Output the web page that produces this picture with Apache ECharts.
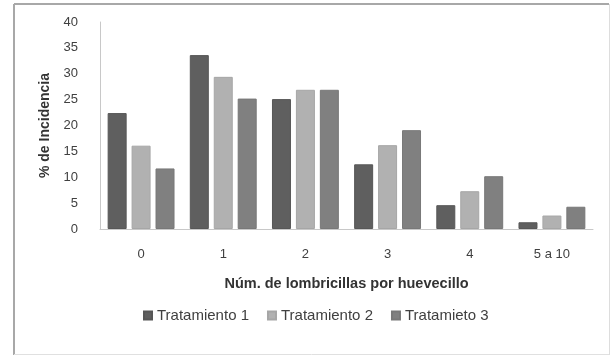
<!DOCTYPE html>
<html><head><meta charset="utf-8">
<script src="https://cdn.jsdelivr.net/npm/echarts@6/dist/echarts.min.js"></script>
<style>html,body{margin:0;padding:0;background:#fff}#c{width:610px;height:356px}</style>
</head><body><div id="c"></div>
<script>
const categories = ['0', '1', '2', '3', '4', '5 a 10'];
const seriesNames = ['Tratamiento 1', 'Tratamiento 2', 'Tratamieto 3'];
const t1 = [22.4, 33.6, 25.1, 12.5, 4.6, 1.3];
const t2 = [16.1, 29.4, 26.9, 16.2, 7.3, 2.6];
const t3 = [11.7, 25.2, 26.9, 19.1, 10.2, 4.3];
const yTicks = [0, 5, 10, 15, 20, 25, 30, 35, 40];
const colors = ['#5f5f5f', '#b1b1b1', '#808080'];
const borders = ['#575757', '#a6a6a6', '#787878'];
const font = '"Liberation Sans", "Noto Sans", sans-serif';
const chart = echarts.init(document.getElementById('c'));
const data = [t1, t2, t3];
chart.setOption({
  animation: false,
  textStyle: {fontFamily: font},
  graphic: [
    {type: 'line', shape: {x1: 14, y1: 4, x2: 609, y2: 4}, style: {stroke: '#a8a8a8', lineWidth: 2}},
    {type: 'line', shape: {x1: 14, y1: 4, x2: 14, y2: 355}, style: {stroke: '#a8a8a8', lineWidth: 2}},
    {type: 'line', shape: {x1: 609.5, y1: 4, x2: 609.5, y2: 355}, style: {stroke: '#dddddd', lineWidth: 1}},
    {type: 'line', shape: {x1: 14, y1: 354.5, x2: 609, y2: 354.5}, style: {stroke: '#e0e0e0', lineWidth: 1}}
  ],
  grid: {left: 100, right: 17, top: 22, bottom: 127, containLabel: false},
  legend: {
    data: seriesNames, bottom: 33, left: 143, itemWidth: 8, itemHeight: 8, itemGap: 18,
    icon: 'rect', textStyle: {fontSize: 15, color: '#404040', fontFamily: font},
    padding: 0
  },
  xAxis: {
    type: 'category', data: categories,
    axisLine: {lineStyle: {color: '#c8c8c8', width: 1}},
    axisTick: {show: false},
    axisLabel: {fontSize: 13, color: '#404040', margin: 19},
    name: 'Núm. de lombricillas por huevecillo', nameLocation: 'middle', nameGap: 47,
    nameTextStyle: {fontSize: 14.5, fontWeight: 'bold', color: '#333'}
  },
  yAxis: {
    type: 'value', min: yTicks[0], max: yTicks[yTicks.length - 1], interval: 5,
    axisLine: {show: true, lineStyle: {color: '#c8c8c8'}},
    axisTick: {show: false}, splitLine: {show: false},
    axisLabel: {fontSize: 13, color: '#404040', margin: 22},
    name: '% de Incidencia', nameLocation: 'middle', nameGap: 47,
    nameTextStyle: {fontSize: 14, fontWeight: 'bold', color: '#333'}
  },
  series: seriesNames.map((n, i) => ({
    name: n, type: 'bar', data: data[i], barWidth: 19, barGap: '26%',
    itemStyle: {color: colors[i], borderColor: borders[i], borderWidth: 1}
  }))
});
</script></body></html>
